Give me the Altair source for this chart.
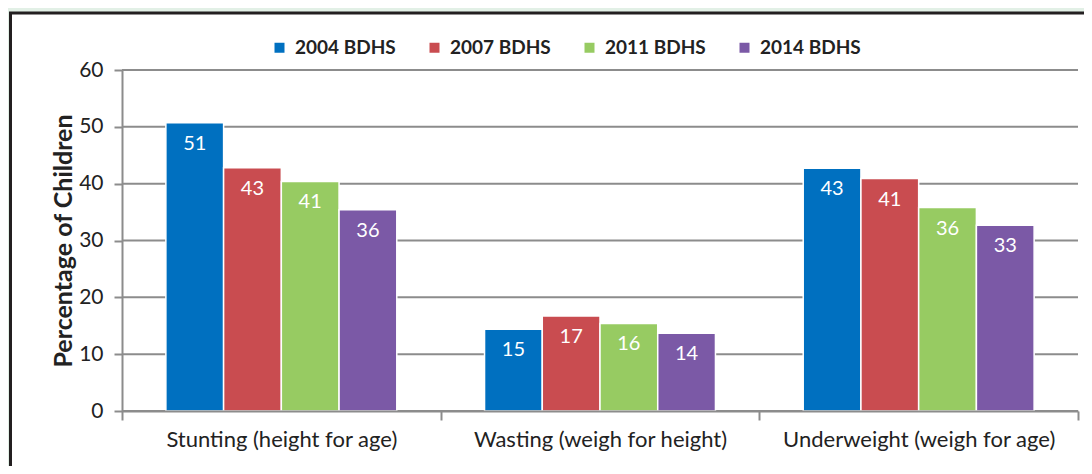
import altair as alt
import pandas as pd

categories = ["Stunting (height for age)", "Wasting (weigh for height)", "Underweight (weigh for age)"]
surveys = ["2004 BDHS", "2007 BDHS", "2011 BDHS", "2014 BDHS"]
colors = ["#0070c0", "#c94c50", "#97cb62", "#7b59a6"]

stunting = [50.7, 42.8, 40.4, 35.4]
wasting = [14.4, 16.7, 15.4, 13.7]
underweight = [42.7, 40.9, 35.8, 32.7]

stunting_labels = ["51", "43", "41", "36"]
wasting_labels = ["15", "17", "16", "14"]
underweight_labels = ["43", "41", "36", "33"]

y_ticks = [0, 10, 20, 30, 40, 50, 60]

rows = []
for cat, vals, labs in zip(categories,
                           [stunting, wasting, underweight],
                           [stunting_labels, wasting_labels, underweight_labels]):
    for s, v, l in zip(surveys, vals, labs):
        rows.append({"category": cat, "survey": s, "value": v, "label": l})
df = pd.DataFrame(rows)
grid_df = pd.DataFrame({"tick": y_ticks})

W, H = 956, 341
FONT = "Lato"
GRAY = "#8c8c8c"
TXT = "#222222"

x_enc = alt.X(
    "category:N", sort=categories,
    scale=alt.Scale(paddingInner=0, paddingOuter=0),
    axis=alt.Axis(title=None, labelAngle=0, labelFontSize=22, labelColor=TXT, labelFont=FONT,
                  labelLimit=600, tickBand="extent", tickSize=9, tickColor=GRAY, tickWidth=2,
                  domainColor=GRAY, domainWidth=2, labelPadding=9, zindex=1, grid=False),
)


def y_enc(field):
    return alt.Y(
        field,
        scale=alt.Scale(domain=[0, 60], nice=False),
        axis=alt.Axis(values=y_ticks, title="Percentage of Children", titleFontSize=25,
                      titleFont=FONT, titleFontWeight="bold", titleColor=TXT,
                      labelFontSize=21, labelColor=TXT, labelFont=FONT, tickSize=8,
                      tickColor=GRAY, tickWidth=2, domainColor=GRAY, domainWidth=2,
                      grid=False, labelPadding=11, titlePadding=2, zindex=1),
    )


xoff = alt.XOffset("survey:N", scale=alt.Scale(domain=surveys, paddingInner=0, paddingOuter=0.76))

panel = alt.Chart(alt.Data(values=[{"a": 1}])).mark_rect(
    fill="white", stroke="#231f20", strokeWidth=3
).encode(
    x=alt.value(-111.5), x2=alt.value(1000), y=alt.value(-57), y2=alt.value(430)
)

grid = alt.Chart(grid_df).mark_rule(color=GRAY, strokeWidth=2).encode(
    y=y_enc("tick:Q"), x=alt.value(0), x2=alt.value(W)
)

bars = alt.Chart(df).mark_bar(stroke="white", strokeWidth=1.5).encode(
    x=x_enc,
    xOffset=xoff,
    y=y_enc("value:Q"),
    color=alt.Color(
        "survey:N",
        scale=alt.Scale(domain=surveys, range=colors),
        legend=alt.Legend(title=None, orient="none", legendX=148, legendY=-32,
                          direction="horizontal", columns=4, symbolType="square",
                          symbolSize=100, symbolStrokeWidth=0, symbolOpacity=1,
                          labelFont=FONT, labelFontSize=19, labelFontWeight="bold",
                          labelColor=TXT, columnPadding=29, labelOffset=6),
    ),
)

text = alt.Chart(df).mark_text(color="white", fontSize=20, font=FONT, baseline="middle", dy=21).encode(
    x=x_enc,
    xOffset=xoff,
    y=y_enc("value:Q"),
    text="label:N",
)

chart = alt.layer(panel, grid, bars, text).properties(
    width=W, height=H,
    padding={"left": 114, "top": 62, "right": 6, "bottom": 55},
    autosize="none",
    background="#e2f0e6",
).configure_view(stroke=None)

chart.save("out.html", embed_options={"renderer": "svg", "actions": False})
